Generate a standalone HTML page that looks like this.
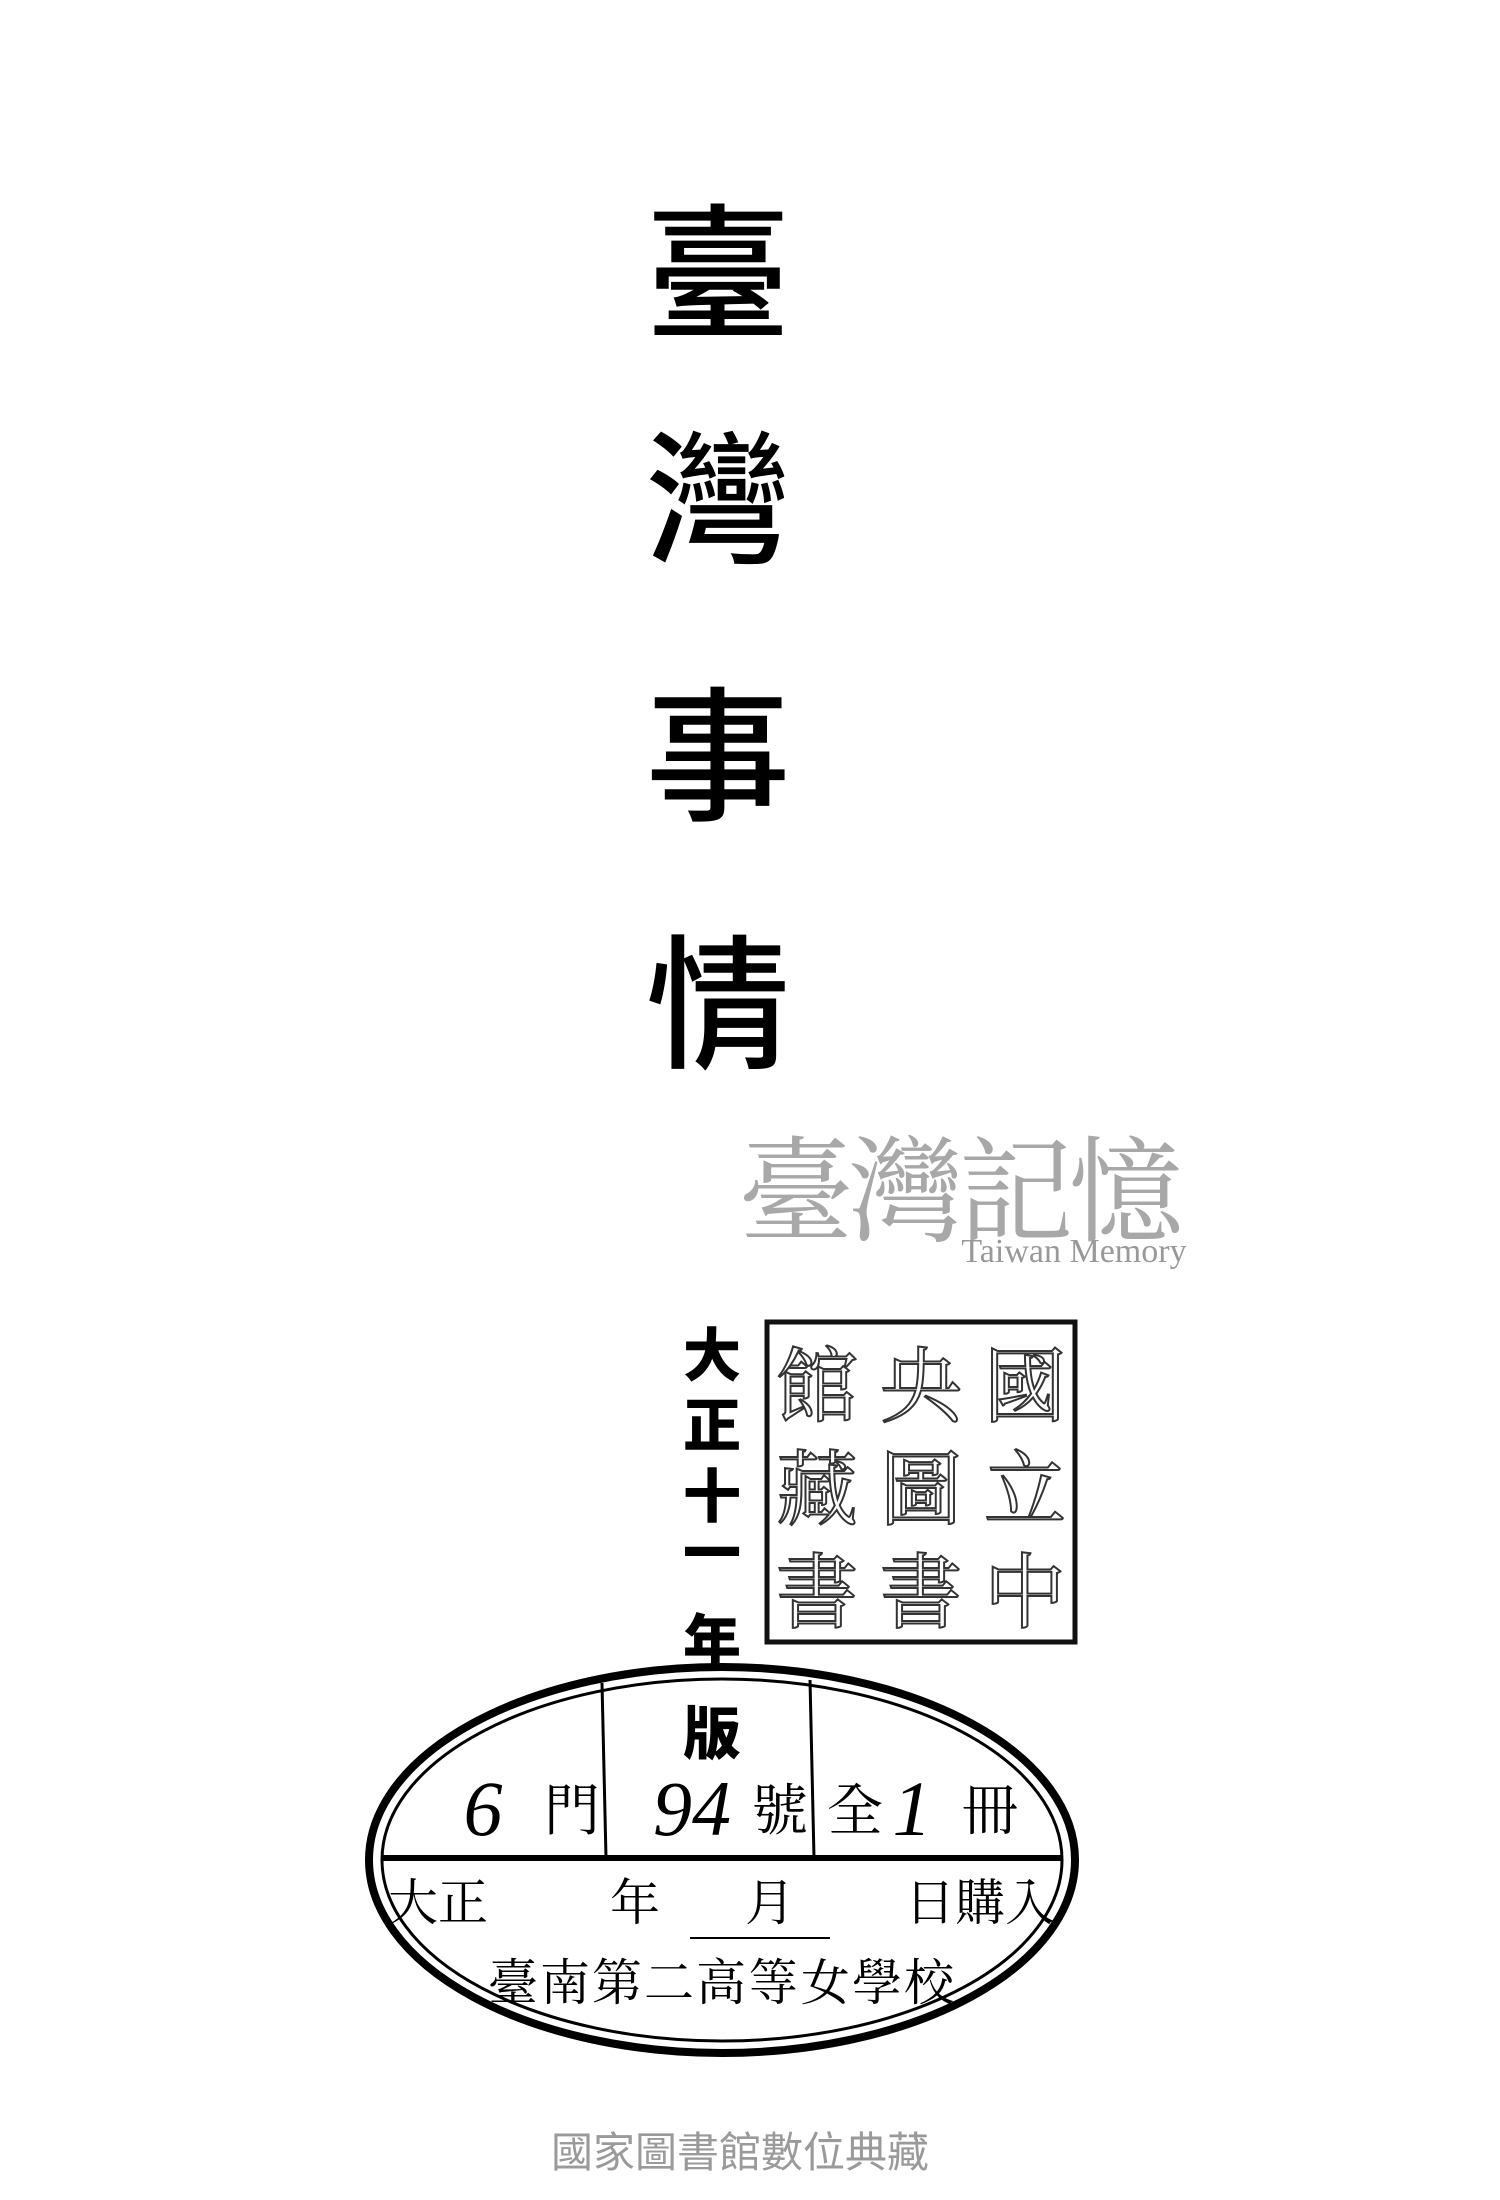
<!DOCTYPE html>
<html><head><meta charset="utf-8"><style>
html,body{margin:0;padding:0;background:#fff;}
svg{display:block;}
</style></head><body>
<svg width="1500" height="2200" viewBox="0 0 1500 2200" xmlns="http://www.w3.org/2000/svg">
<rect width="1500" height="2200" fill="#fff"/>
<g font-family="'Noto Sans CJK TC','Noto Sans CJK SC',sans-serif" font-weight="500" font-size="145" fill="#000" text-anchor="middle">
<text x="718" y="326">臺</text>
<text x="718" y="552">灣</text>
<text x="718" y="809">事</text>
<text x="718" y="1057">情</text>
</g>
<g font-family="'Noto Serif CJK SC',serif" font-size="115" fill="#a8a8a8" text-anchor="middle">
<text x="796" y="1232">臺</text><text x="906" y="1232">灣</text><text x="1016" y="1232">記</text><text x="1126" y="1232">憶</text>
</g>
<text x="1074" y="1262" font-family="'Liberation Serif',serif" font-size="34" fill="#999" text-anchor="middle">Taiwan Memory</text>
<!-- square seal -->
<rect x="767" y="1322" width="308" height="320" fill="none" stroke="#111" stroke-width="5"/>
<g font-family="'Noto Serif CJK TC',serif" font-size="82" fill="none" stroke="#333" stroke-width="2" text-anchor="middle">
<text x="1025" y="1415">國</text><text x="1025" y="1518">立</text><text x="1025" y="1621">中</text>
<text x="921" y="1415">央</text><text x="921" y="1518">圖</text><text x="921" y="1621">書</text>
<text x="817" y="1415">館</text><text x="817" y="1518">藏</text><text x="817" y="1621">書</text>
</g>
<g font-family="'Noto Sans CJK TC',sans-serif" font-weight="900" font-size="58" fill="#000" text-anchor="middle">
<text x="712" y="1376">大</text><text x="712" y="1446">正</text><text x="712" y="1517">十</text><text x="712" y="1574">一</text><text x="712" y="1662">年</text><text x="712" y="1754">版</text>
</g>
<!-- oval stamp -->
<ellipse cx="722" cy="1860" rx="353" ry="193" fill="none" stroke="#000" stroke-width="8"/>
<ellipse cx="722" cy="1860" rx="340" ry="181" fill="none" stroke="#000" stroke-width="3"/>
<line x1="383" y1="1858" x2="1061" y2="1858" stroke="#000" stroke-width="6"/>
<line x1="602" y1="1683" x2="606" y2="1858" stroke="#000" stroke-width="3"/>
<line x1="810" y1="1680" x2="814" y2="1858" stroke="#000" stroke-width="3"/>
<g font-family="'Noto Serif CJK TC','Noto Sans CJK TC',serif" font-size="56" fill="#000" text-anchor="middle">
<text x="572" y="1830">門</text><text x="780" y="1830">號</text><text x="855" y="1830">全</text><text x="990" y="1830">冊</text>
<text x="438" y="1920" font-size="50">大正</text><text x="635" y="1920" font-size="50">年</text><text x="770" y="1920" font-size="50">月</text><text x="980" y="1920" font-size="50">日購入</text>
<text x="722" y="2000" font-size="50" letter-spacing="2">臺南第二高等女學校</text>
</g>
<g font-family="'Liberation Serif',serif" font-style="italic" font-size="78" fill="#000" text-anchor="middle">
<text x="483" y="1835">6</text><text x="692" y="1835">94</text><text x="912" y="1835">1</text>
</g>
<line x1="690" y1="1938" x2="830" y2="1938" stroke="#000" stroke-width="2"/>
<text x="740" y="2167" font-family="'Noto Sans CJK TC',sans-serif" font-size="42" fill="#9a9a9a" text-anchor="middle">國家圖書館數位典藏</text>
</svg>
</body></html>
